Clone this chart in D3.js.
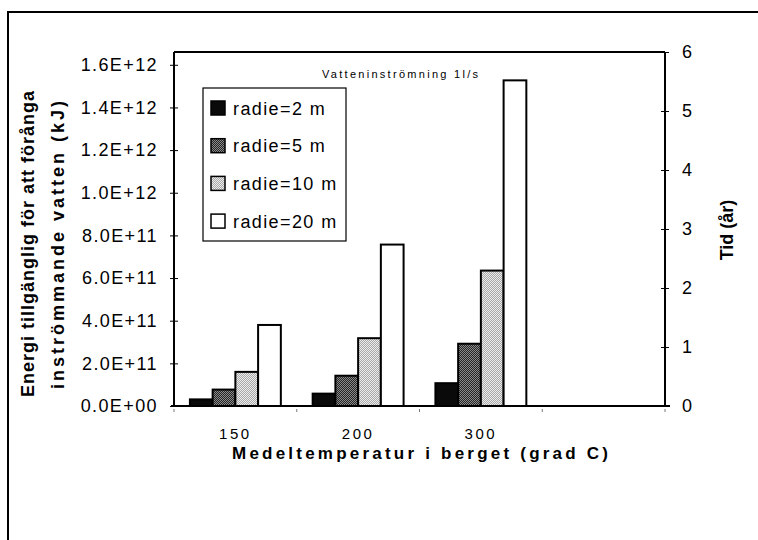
<!DOCTYPE html>
<html>
<head>
<meta charset="utf-8">
<script src="https://cdn.jsdelivr.net/npm/d3@7"></script>
<style>
html,body{margin:0;padding:0;background:#fff;}
svg{display:block;font-family:"Liberation Sans",Arial,sans-serif;}
</style>
</head>
<body>
<svg id="chart" width="758" height="540"></svg>
<script>
const categories = ["150", "200", "300", ""];
const seriesNames = ["radie=2 m", "radie=5 m", "radie=10 m", "radie=20 m"];
const radie2 = [0.031e12, 0.058e12, 0.107e12, null];
const radie5 = [0.077e12, 0.142e12, 0.292e12, null];
const radie10 = [0.160e12, 0.318e12, 0.635e12, null];
const radie20 = [0.380e12, 0.757e12, 1.527e12, null];
const leftTicks = [0, 0.2e12, 0.4e12, 0.6e12, 0.8e12, 1.0e12, 1.2e12, 1.4e12, 1.6e12];
const rightTicks = [0, 1, 2, 3, 4, 5, 6];
const chartTitle = "Vatteninströmning 1l/s";
const xTitle = "Medeltemperatur i berget (grad C)";
const yTitle1 = "Energi tillgänglig för att förånga";
const yTitle2 = "inströmmande vatten (kJ)";
const y2Title = "Tid (år)";

const seriesValues = [radie2, radie5, radie10, radie20];

const svg = d3.select("#chart");
const L = 174, R = 665, T = 52, B = 406;

// dither-like patterns
const defs = svg.append("defs");
function checker(id, a, b) {
  const p = defs.append("pattern").attr("id", id).attr("width", 2).attr("height", 2)
    .attr("patternUnits", "userSpaceOnUse");
  p.append("rect").attr("width", 2).attr("height", 2).attr("fill", a);
  p.append("rect").attr("x", 0).attr("y", 0).attr("width", 1).attr("height", 1).attr("fill", b);
  p.append("rect").attr("x", 1).attr("y", 1).attr("width", 1).attr("height", 1).attr("fill", b);
}
checker("pDark", "#262626", "#8a8a8a");
checker("pLight", "#a8a8a8", "#ececec");
const patFills = ["#0a0a0a", "url(#pDark)", "url(#pLight)", "#ffffff"];

// outer frame
svg.append("rect").attr("x", 8).attr("y", 12).attr("width", 800).attr("height", 600)
  .attr("fill", "none").attr("stroke", "#000").attr("stroke-width", 2);

const x = d3.scaleBand().domain(categories).range([L, R]);
const xs = d3.scaleBand().domain(seriesNames).range([0, x.bandwidth()]).paddingOuter(0.7);
const yL = d3.scaleLinear().domain([0, 1.66e12]).range([B, T]);
const yR = d3.scaleLinear().domain([0, 6]).range([B, T]);

// bars
seriesNames.forEach((s, i) => {
  const vals = seriesValues[i];
  svg.append("g").selectAll("rect")
    .data(categories.map((c, j) => ({ c, v: vals[j] })).filter(d => d.v != null))
    .join("rect")
    .attr("x", d => x(d.c) + xs(s))
    .attr("y", d => yL(d.v))
    .attr("width", xs.bandwidth())
    .attr("height", d => B - yL(d.v))
    .attr("fill", patFills[i])
    .attr("stroke", "#000")
    .attr("stroke-width", 2);
});

// plot box top
svg.append("line").attr("x1", L).attr("x2", R).attr("y1", T).attr("y2", T)
  .attr("stroke", "#000").attr("stroke-width", 2);

function fmtE(d) {
  if (d === 0) return "0.0E+00";
  const e = Math.floor(Math.log10(d));
  const m = d / Math.pow(10, e);
  return m.toFixed(1) + "E+" + String(e).padStart(2, "0");
}

// left axis
const gL = svg.append("g").attr("transform", `translate(${L},0)`)
  .call(d3.axisLeft(yL).tickValues(leftTicks).tickFormat(fmtE).tickSize(4).tickPadding(12));
gL.select(".domain").attr("d", `M0,${T}V${B}`).attr("stroke-width", 2);
gL.selectAll(".tick line").attr("x1", 4).attr("x2", -4).attr("stroke-width", 1);
gL.selectAll(".tick text").attr("font-size", 18).attr("letter-spacing", 1.4)
  .attr("font-family", "Liberation Sans, Arial, sans-serif").attr("fill", "#000");

// right axis
const gR = svg.append("g").attr("transform", `translate(${R},0)`)
  .call(d3.axisRight(yR).tickValues(rightTicks).tickFormat(d3.format("d")).tickSize(4).tickPadding(13));
gR.select(".domain").attr("d", `M0,${T}V${B}`).attr("stroke-width", 2);
gR.selectAll(".tick line").attr("x1", -4).attr("x2", 4).attr("stroke-width", 1);
gR.selectAll(".tick text").attr("font-size", 18)
  .attr("font-family", "Liberation Sans, Arial, sans-serif").attr("fill", "#000");

// bottom axis
const gB = svg.append("g").attr("transform", `translate(0,${B})`)
  .call(d3.axisBottom(x).tickSize(0).tickPadding(22));
gB.select(".domain").attr("d", `M${L - 3},0H${R + 5}`).attr("stroke-width", 2);
gB.selectAll(".tick text").attr("font-size", 15).attr("letter-spacing", 2.5)
  .attr("font-family", "Liberation Sans, Arial, sans-serif").attr("fill", "#000");
// category boundary ticks
const bounds = categories.map(c => x(c)).concat([x(categories[categories.length - 1]) + x.bandwidth()]);
gB.append("g").selectAll("line").data(bounds).join("line")
  .attr("x1", d => d).attr("x2", d => d).attr("y1", 3).attr("y2", 6)
  .attr("stroke", "#777").attr("stroke-width", 1);

// legend
const lg = svg.append("g");
lg.append("rect").attr("x", 203).attr("y", 88).attr("width", 143).attr("height", 153)
  .attr("fill", "#fff").attr("stroke", "#000").attr("stroke-width", 1.2);
seriesNames.forEach((s, i) => {
  const cy = 108 + i * 37.7;
  lg.append("rect").attr("x", 211).attr("y", cy - 7).attr("width", 14).attr("height", 14)
    .attr("fill", patFills[i]).attr("stroke", "#000").attr("stroke-width", 1.5);
  lg.append("text").attr("x", 233).attr("y", cy + 6.5).attr("font-size", 18)
    .attr("letter-spacing", 1.4).text(s);
});

// titles
svg.append("text").attr("x", 322).attr("y", 78).attr("font-size", 11)
  .attr("textLength", 156).attr("lengthAdjust", "spacing").text(chartTitle);

svg.append("text").attr("x", 420).attr("y", 459).attr("text-anchor", "middle")
  .attr("font-size", 17).attr("font-weight", "bold")
  .attr("textLength", 376).attr("lengthAdjust", "spacing").text(xTitle);

svg.append("text").attr("transform", "translate(34,244) rotate(-90)")
  .attr("text-anchor", "middle").attr("font-size", 18).attr("font-weight", "bold")
  .attr("textLength", 306).attr("lengthAdjust", "spacing").text(yTitle1);
svg.append("text").attr("transform", "translate(64,245) rotate(-90)")
  .attr("text-anchor", "middle").attr("font-size", 18).attr("font-weight", "bold")
  .attr("textLength", 288).attr("lengthAdjust", "spacing").text(yTitle2);

svg.append("text").attr("transform", "translate(733,230) rotate(-90)")
  .attr("text-anchor", "middle").attr("font-size", 18).attr("font-weight", "bold")
  .text(y2Title);
</script>
</body>
</html>
